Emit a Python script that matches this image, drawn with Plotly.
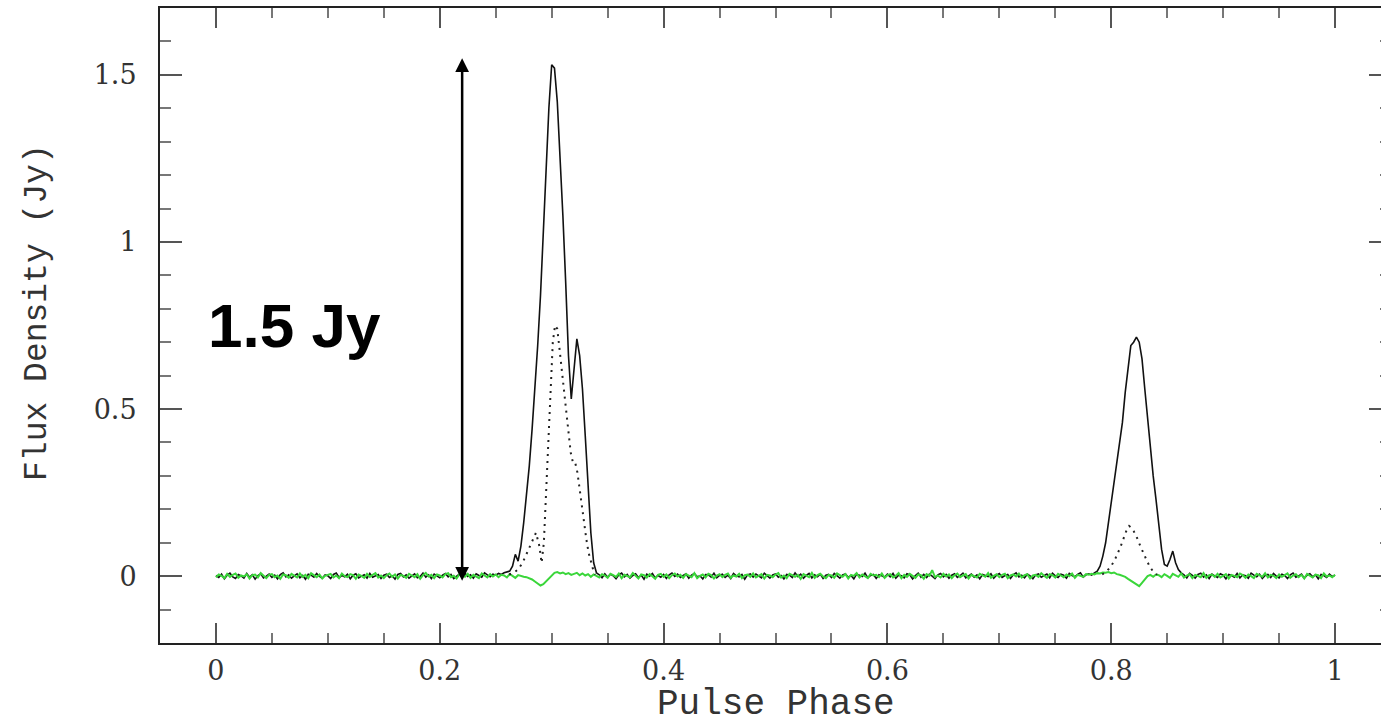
import numpy as np
import plotly.graph_objects as go

# ---------------- data ----------------
# phase bins (0 .. 1, step 0.0025)
PHASE = np.round(np.arange(401) * 0.0025, 4)

# total intensity (solid black), Jy, one value per bin
I_FLUX = [
    0.002, -0.004, 0.006, -0.008, 0.003, 0.009, -0.002, -0.007, 0.005, 0.001, -0.006, 0.008, -0.003, 0.004, -0.009, 0.002, 0.007, -0.005, 0.000, 0.006,
    -0.004, 0.003, -0.008, 0.005, 0.010, -0.002, 0.004, -0.006, 0.001, 0.007, -0.005, 0.002, -0.009, 0.006, 0.003, -0.003, 0.008, -0.001, -0.006, 0.004,
    0.001, -0.007, 0.005, 0.009, -0.004, 0.002, -0.002, 0.006, -0.008, 0.003, 0.007, -0.005, 0.000, 0.004, -0.006, 0.008, -0.003, 0.002, 0.005, -0.007,
    0.003, 0.006, -0.004, 0.001, -0.009, 0.005, 0.008, -0.002, 0.004, -0.006, 0.002, 0.007, -0.005, -0.001, 0.009, -0.003, 0.004, -0.007, 0.006, 0.001,
    -0.005, 0.003, 0.008, -0.002, 0.005, -0.007, 0.001, 0.006, -0.004, 0.009, -0.001, 0.004, -0.006, 0.007, 0.002, -0.003, 0.010, 0.004, -0.002, 0.006,
    0.003, 0.008, 0.005, 0.010, 0.012, 0.015, 0.030, 0.065, 0.045, 0.090, 0.160, 0.240, 0.330, 0.440, 0.560, 0.690, 0.840, 1.020, 1.220, 1.400,
    1.530, 1.520, 1.420, 1.270, 1.080, 0.880, 0.660, 0.530, 0.620, 0.710, 0.660, 0.560, 0.420, 0.270, 0.130, 0.040, 0.010, 0.004, -0.005, 0.007,
    -0.003, 0.006, 0.001, -0.008, 0.004, 0.009, -0.002, 0.005, -0.006, 0.002, 0.007, -0.004, 0.003, -0.009, 0.006, 0.000, 0.008, -0.005, 0.002, -0.003,
    0.005, -0.007, 0.004, 0.009, -0.001, 0.006, -0.004, 0.002, 0.007, -0.006, 0.003, 0.008, -0.002, 0.001, -0.008, 0.005, 0.004, -0.003, 0.009, -0.005,
    0.002, 0.006, -0.004, 0.003, -0.007, 0.008, 0.001, -0.002, 0.005, -0.009, 0.004, 0.007, -0.003, 0.006, 0.000, -0.005, 0.009, 0.002, -0.006, 0.004,
    0.007, -0.003, 0.002, -0.008, 0.005, 0.003, -0.004, 0.010, -0.001, 0.006, -0.006, 0.002, 0.008, -0.005, 0.004, -0.002, 0.006, -0.007, 0.003, 0.005,
    -0.004, 0.008, 0.001, -0.006, 0.004, 0.007, -0.003, 0.002, -0.008, 0.006, 0.003, -0.001, 0.009, -0.005, 0.002, 0.005, -0.007, 0.004, 0.001, -0.003,
    0.006, -0.002, 0.008, -0.006, 0.003, 0.001, -0.005, 0.007, 0.004, -0.008, 0.002, 0.009, -0.003, 0.005, -0.004, 0.006, 0.000, -0.007, 0.004, 0.008,
    -0.002, 0.005, -0.006, 0.003, 0.007, -0.004, 0.002, 0.009, -0.005, 0.001, 0.006, -0.003, 0.004, -0.008, 0.005, 0.002, -0.001, 0.007, -0.006, 0.003,
    0.008, -0.004, 0.002, 0.005, -0.007, 0.004, 0.010, -0.002, 0.003, -0.005, 0.006, 0.001, -0.008, 0.004, 0.007, -0.003, 0.002, 0.006, -0.005, 0.009,
    0.001, -0.004, 0.006, 0.003, -0.006, 0.008, 0.002, -0.002, 0.005, 0.010, -0.003, 0.004, 0.007, 0.003, 0.010, 0.015, 0.030, 0.060, 0.100, 0.160,
    0.210, 0.270, 0.330, 0.390, 0.460, 0.550, 0.630, 0.690, 0.700, 0.715, 0.700, 0.650, 0.560, 0.470, 0.380, 0.300, 0.230, 0.150, 0.080, 0.035,
    0.030, 0.050, 0.075, 0.040, 0.020, 0.010, 0.004, -0.005, 0.008, 0.002, -0.006, 0.005, 0.009, -0.003, 0.004, -0.007, 0.006, 0.001, -0.004, 0.007,
    0.003, -0.008, 0.005, 0.002, -0.003, 0.008, -0.005, 0.004, 0.001, -0.006, 0.009, 0.003, -0.002, 0.006, -0.007, 0.002, 0.005, -0.004, 0.008, 0.000,
    -0.005, 0.006, 0.002, -0.007, 0.004, 0.009, -0.003, 0.001, 0.006, -0.006, 0.003, 0.007, -0.002, 0.004, -0.008, 0.005, 0.002, -0.004, 0.006, -0.001,
    0.003,
]

# circular polarisation (green), Jy, one value per bin
V_FLUX = [
    -0.003, 0.005, 0.001, -0.006, 0.007, -0.002, 0.004, 0.008, -0.005, 0.002, -0.001, 0.006, -0.007, 0.003, 0.005, -0.004, 0.009, 0.000, -0.006, 0.004,
    0.006, -0.003, 0.002, -0.008, 0.005, 0.003, -0.005, 0.007, 0.001, -0.004, 0.008, -0.002, 0.004, -0.006, 0.009, 0.002, -0.003, 0.005, -0.007, 0.001,
    0.004, 0.007, -0.004, 0.002, -0.006, 0.008, 0.000, -0.003, 0.006, 0.003, -0.008, 0.005, 0.001, -0.005, 0.007, -0.002, 0.004, 0.009, -0.004, 0.002,
    -0.006, 0.003, 0.008, -0.002, 0.005, -0.007, 0.004, 0.001, -0.005, 0.007, 0.002, -0.003, 0.006, -0.008, 0.003, 0.010, -0.001, 0.004, -0.006, 0.005,
    0.002, -0.004, 0.006, 0.009, -0.003, 0.001, -0.007, 0.005, 0.003, -0.002, 0.007, -0.005, 0.004, 0.000, -0.006, 0.008, 0.002, -0.004, 0.006, -0.001,
    0.005, -0.003, 0.004, 0.002, -0.004, 0.006, 0.001, -0.005, 0.003, 0.000, -0.002, -0.003, -0.006, -0.010, -0.016, -0.022, -0.028, -0.024, -0.015, -0.005,
    0.004, 0.010, 0.012, 0.008, 0.011, 0.006, 0.009, 0.004, 0.007, 0.010, 0.003, 0.008, 0.002, 0.006, -0.002, 0.005, 0.001, -0.004, 0.006, 0.002,
    -0.005, 0.007, 0.003, -0.002, 0.008, -0.006, 0.004, 0.001, -0.003, 0.009, 0.002, -0.007, 0.005, 0.003, -0.004, 0.006, 0.000, -0.008, 0.004, 0.007,
    -0.002, 0.005, -0.006, 0.003, 0.008, -0.001, 0.004, -0.005, 0.006, 0.002, -0.003, 0.009, -0.006, 0.001, 0.005, -0.004, 0.007, 0.003, -0.007, 0.002,
    0.006, -0.003, 0.004, 0.008, -0.005, 0.002, -0.001, 0.007, -0.006, 0.003, 0.005, -0.002, 0.008, -0.004, 0.001, 0.006, -0.007, 0.004, 0.002, -0.003,
    0.005, 0.009, -0.004, 0.002, -0.006, 0.007, 0.003, -0.002, 0.004, -0.008, 0.006, 0.001, -0.003, 0.010, -0.005, 0.003, 0.007, -0.001, -0.006, 0.004,
    0.002, -0.005, 0.008, 0.003, -0.002, 0.006, -0.007, 0.004, 0.001, 0.009, -0.004, 0.005, -0.001, -0.006, 0.007, 0.002, 0.004, -0.003, 0.008, -0.005,
    0.003, 0.006, -0.004, 0.001, 0.009, -0.006, 0.004, -0.002, 0.007, 0.002, -0.005, 0.005, 0.003, -0.008, 0.006, 0.001, 0.018, -0.003, 0.002, -0.004,
    0.007, -0.001, 0.005, -0.006, 0.003, 0.008, -0.003, 0.002, 0.006, -0.007, 0.004, 0.000, -0.004, 0.007, 0.003, -0.002, 0.009, -0.005, 0.001, 0.006,
    -0.003, 0.004, 0.007, -0.006, 0.002, 0.005, -0.001, 0.008, -0.004, 0.003, 0.006, -0.007, 0.002, 0.004, -0.002, 0.009, 0.001, -0.005, 0.006, 0.003,
    -0.004, 0.007, 0.002, -0.003, 0.005, 0.000, 0.008, -0.005, 0.004, 0.002, -0.002, 0.006, 0.004, 0.007, 0.005, 0.009, 0.008, 0.011, 0.010, 0.012,
    0.009, 0.011, 0.006, 0.004, 0.001, -0.002, -0.008, -0.014, -0.020, -0.026, -0.030, -0.020, -0.010, 0.000, 0.004, -0.002, 0.005, 0.003, -0.003, 0.006,
    0.001, -0.005, 0.007, 0.003, -0.002, 0.008, -0.004, 0.002, 0.006, -0.006, 0.004, 0.001, -0.003, 0.009, -0.005, 0.003, 0.005, -0.002, 0.007, -0.004,
    0.002, 0.006, -0.007, 0.004, 0.001, -0.003, 0.008, 0.003, -0.005, 0.005, 0.000, -0.006, 0.007, 0.002, -0.002, 0.009, -0.004, 0.004, 0.001, -0.006,
    0.005, -0.002, 0.003, 0.008, -0.005, 0.002, 0.006, -0.003, 0.004, -0.007, 0.007, 0.001, -0.004, 0.005, 0.003, -0.006, 0.008, -0.001, 0.002, -0.003,
    0.004,
]

# linear polarisation (dotted black), main pulse
L1_PHASE = [0.262, 0.266, 0.270, 0.274, 0.278, 0.282, 0.286, 0.289, 0.291, 0.293, 0.295, 0.297,
            0.299, 0.301, 0.303, 0.305, 0.307, 0.309, 0.311, 0.313, 0.315, 0.317, 0.319, 0.321,
            0.323, 0.325, 0.327, 0.329, 0.331, 0.333, 0.335, 0.337, 0.339]
L1_FLUX = [0.005, 0.010, 0.020, 0.040, 0.070, 0.100, 0.130, 0.090, 0.040, 0.100, 0.250, 0.420,
           0.580, 0.700, 0.750, 0.740, 0.680, 0.620, 0.550, 0.480, 0.420, 0.370, 0.340, 0.340,
           0.310, 0.260, 0.200, 0.150, 0.110, 0.070, 0.040, 0.020, 0.005]

# linear polarisation (dotted black), interpulse
L2_PHASE = [0.792, 0.796, 0.800, 0.804, 0.808, 0.811, 0.814, 0.816, 0.818, 0.820, 0.823,
            0.826, 0.829, 0.832, 0.835, 0.838, 0.841]
L2_FLUX = [0.005, 0.015, 0.030, 0.055, 0.085, 0.110, 0.140, 0.150, 0.145, 0.135, 0.115,
           0.090, 0.065, 0.045, 0.025, 0.012, 0.004]

X_TICKS = [0, 0.2, 0.4, 0.6, 0.8, 1]
X_TICK_TEXT = ["0", "0.2", "0.4", "0.6", "0.8", "1"]
Y_TICKS = [0, 0.5, 1, 1.5]
Y_TICK_TEXT = ["0", "0.5", "1", "1.5"]

ARROW_X = 0.22
ARROW_TOP = 1.55
ARROW_BOTTOM = -0.018
LABEL = "1.5 Jy"

# ---------------- figure ----------------
fig = go.Figure()

fig.add_trace(go.Scatter(x=PHASE, y=I_FLUX, mode="lines",
                         line=dict(color="#111111", width=1.6), showlegend=False))
fig.add_trace(go.Scatter(x=PHASE, y=V_FLUX, mode="lines",
                         line=dict(color="#3ad63a", width=2), showlegend=False))
fig.add_trace(go.Scatter(x=L1_PHASE, y=L1_FLUX, mode="lines",
                         line=dict(color="#222222", width=2, dash="2px,5px"), showlegend=False))
fig.add_trace(go.Scatter(x=L2_PHASE, y=L2_FLUX, mode="lines",
                         line=dict(color="#222222", width=2, dash="2px,5px"), showlegend=False))

tick_font = dict(family="DejaVu Serif", size=27, color="#333333")
title_font = dict(family="Liberation Mono", size=36, color="#333333")

fig.update_xaxes(
    range=[-0.05, 1.05], showgrid=False, zeroline=False,
    showline=True, linecolor="#222222", linewidth=2, mirror="allticks",
    ticks="inside", ticklen=20, tickwidth=1.5, tickcolor="#555555",
    tickvals=X_TICKS, ticktext=X_TICK_TEXT, tickfont=tick_font, ticklabelstandoff=3,
    minor=dict(dtick=0.05, tick0=0, ticks="inside", ticklen=10, tickwidth=1.5, tickcolor="#777777"),
)
fig.update_yaxes(
    range=[-0.2, 1.7], showgrid=False, zeroline=False,
    showline=True, linecolor="#222222", linewidth=2, mirror="allticks",
    ticks="inside", ticklen=22, tickwidth=1.5, tickcolor="#555555",
    tickvals=Y_TICKS, ticktext=Y_TICK_TEXT, tickfont=tick_font, ticklabelstandoff=16,
    minor=dict(dtick=0.1, tick0=0, ticks="inside", ticklen=11, tickwidth=1.5, tickcolor="#777777"),
)

fig.add_annotation(x=ARROW_X, y=ARROW_TOP, ax=ARROW_X, ay=ARROW_BOTTOM,
                   xref="x", yref="y", axref="x", ayref="y", text="",
                   showarrow=True, arrowhead=2, startarrowhead=2, arrowside="end+start",
                   arrowsize=1.1, startarrowsize=1.1, arrowwidth=2.5, arrowcolor="#000000")
fig.add_annotation(x=0.07, y=0.75, xref="x", yref="y", text=LABEL, showarrow=False,
                   font=dict(family="Liberation Sans", size=62, color="#000000", weight="bold"),
                   xanchor="center", yanchor="middle")

fig.add_annotation(x=0.5, y=-0.097, xref="paper", yref="paper", text="Pulse Phase",
                   showarrow=False, font=title_font, xanchor="center", yanchor="middle")
fig.add_annotation(x=-0.099, y=0.52, xref="paper", yref="paper", text="Flux Density (Jy)",
                   showarrow=False, font=dict(family="Liberation Mono", size=33, color="#333333"),
                   textangle=-90, xanchor="center", yanchor="middle")

fig.update_layout(
    width=1393, height=724,
    margin=dict(l=160, r=0, t=8, b=81),
    paper_bgcolor="white", plot_bgcolor="white",
)

fig.write_html("out.html", config={"displayModeBar": False},
               post_script="document.body.style.margin='0';document.body.style.overflow='hidden';")
